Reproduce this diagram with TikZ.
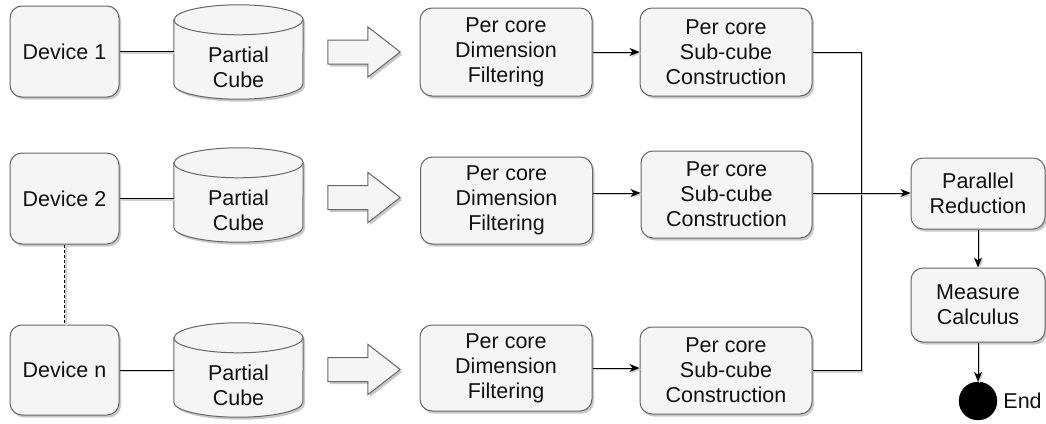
\documentclass[tikz,border=0pt]{standalone}
\usepackage{fontspec}
\setmainfont{Liberation Sans}
\usetikzlibrary{arrows.meta,calc,shadows}

\definecolor{boxfill}{HTML}{F5F5F5}
\definecolor{boxline}{HTML}{666666}
\definecolor{textc}{HTML}{111111}

\tikzset{
  x=1pt, y=1pt,
  softshadow/.style={drop shadow={shadow xshift=2pt, shadow yshift=-2.5pt, opacity=0.3, fill=black!70}},
  box/.style={draw=boxline, fill=boxfill, rounded corners=12pt, line width=1pt,
    text=textc, align=center, font=\fontsize{21.5}{25}\selectfont, inner sep=0pt, softshadow},
  cubebody/.style={align=center, text=textc, font=\fontsize{21.5}{25}\selectfont,
    inner sep=0pt, minimum width=129pt, minimum height=64pt},
  cubeline/.style={draw=boxline, fill=boxfill, line width=1pt},
  arrowslot/.style={inner sep=0pt, minimum width=72pt, minimum height=50pt},
  fatarrow/.style={draw=boxline, fill=boxfill, line width=1pt, line join=miter, softshadow},
  link/.style={line width=1pt, draw=black,
    preaction={draw=black!18, line width=1.2pt, transform canvas={xshift=1.5pt, yshift=-1.5pt}}},
  tip/.style={-{Stealth[length=10pt,width=8pt,inset=3pt]}},
}

% cylinder drawn around a text body node (the body is the part below the lid)
\newcommand{\drawcube}[1]{%
  \path[cubeline, softshadow]
    ($(#1.north west)+(0,15)$) -- ($(#1.south west)+(0,15)$)
    arc[start angle=180, end angle=360, x radius=64.5, y radius=15]
    -- ($(#1.north east)+(0,15)$)
    arc[start angle=0, end angle=180, x radius=64.5, y radius=15] -- cycle;
  \draw[cubeline, fill=none]
    ($(#1.north west)+(0,15)$) arc[start angle=180, end angle=360, x radius=64.5, y radius=15];
}
% wide hollow arrow inside a slot node
\newcommand{\drawfatarrow}[1]{%
  \path[fatarrow]
    ($(#1.west)+(0,12)$) -- ($(#1.west)+(40,12)$) -- ($(#1.north west)+(40,0)$)
    -- (#1.east) -- ($(#1.south west)+(40,0)$) -- ($(#1.west)+(40,-12)$)
    -- ($(#1.west)+(0,-12)$) -- cycle;
}

\begin{document}
\begin{tikzpicture}
\useasboundingbox (0,0) rectangle (1046,-423);

% devices
\node[box, minimum width=109pt, minimum height=91pt] (d1) at (64.5,-51.5) {Device 1};
\node[box, minimum width=109pt, minimum height=91pt] (d2) at (64.5,-198.5) {Device 2};
\node[box, minimum width=109pt, minimum height=90pt] (dn) at (64.5,-370) {Device n};

% partial cubes
\node[cubebody] (c1) at (238.5,-67) {};
\node[cubebody] (c2) at (238.5,-210) {};
\node[cubebody] (cn) at (238.5,-385) {};
\drawcube{c1}
\drawcube{c2}
\drawcube{cn}
\node[cubebody] (c1t) at (c1) {Partial\\Cube};
\node[cubebody] (c2t) at (c2) {Partial\\Cube};
\node[cubebody] (cnt) at (cn) {Partial\\Cube};

% hand-over arrows
\node[arrowslot] (a1) at (364,-52) {};
\node[arrowslot] (a2) at (364,-197.5) {};
\node[arrowslot] (an) at (364,-369.5) {};
\drawfatarrow{a1}
\drawfatarrow{a2}
\drawfatarrow{an}

% per core stages
\node[box, minimum width=172pt, minimum height=88pt] (f1) at (506,-52) {Per core\\Dimension\\Filtering};
\node[box, minimum width=172pt, minimum height=87pt] (f2) at (506.5,-200.5) {Per core\\Dimension\\Filtering};
\node[box, minimum width=172pt, minimum height=86pt] (fn) at (506,-368) {Per core\\Dimension\\Filtering};
\node[box, minimum width=172pt, minimum height=88pt] (s1) at (726,-52) {Per core\\Sub-cube\\Construction};
\node[box, minimum width=171pt, minimum height=87pt] (s2) at (726.5,-194.5) {Per core\\Sub-cube\\Construction};
\node[box, minimum width=172pt, minimum height=87pt] (sn) at (726,-370.5) {Per core\\Sub-cube\\Construction};

% reduction and result
\node[box, minimum width=134pt, minimum height=71pt] (pr) at (978,-193.5) {Parallel\\Reduction};
\node[box, minimum width=134pt, minimum height=74pt] (mc) at (978,-305) {Measure\\Calculus};
\node[circle, fill=black, draw=black, minimum size=38pt, inner sep=0pt] (end) at (978,-401) {};
\node[anchor=west, text=textc, font=\fontsize{21.5}{25}\selectfont, inner sep=0pt] (endlbl) at ($(end.east)+(6,0)$) {End};

% device to cube
\draw[link] (d1.east) -- (d1.east -| c1.west);
\draw[link] (d2.east) -- (d2.east -| c2.west);
\draw[link] (dn.east) -- (dn.east -| cn.west);
\draw[link, dashed, dash pattern=on 3pt off 2pt] (d2.south) -- (dn.north);

% filtering to construction
\draw[link, tip] (f1.east) -- (s1.west);
\draw[link, tip] (f2.east |- s2.west) ++(0,1.5) -- ($(s2.west)+(0,1.5)$);
\draw[link, tip] (fn.east) -- (fn.east -| sn.west);

% merge into the reduction
\coordinate (join) at (861,-193);
\draw[link] (s1.east) -| (join);
\draw[link] (sn.east) -| (join);
\draw[link, tip] (s2.east |- join) -- (pr.west |- join);
\draw[link, tip] (pr.south -| end.north) -- (mc.north -| end.north);
\draw[link, tip] (mc.south -| end.north) -- (end.north);
\end{tikzpicture}
\end{document}
